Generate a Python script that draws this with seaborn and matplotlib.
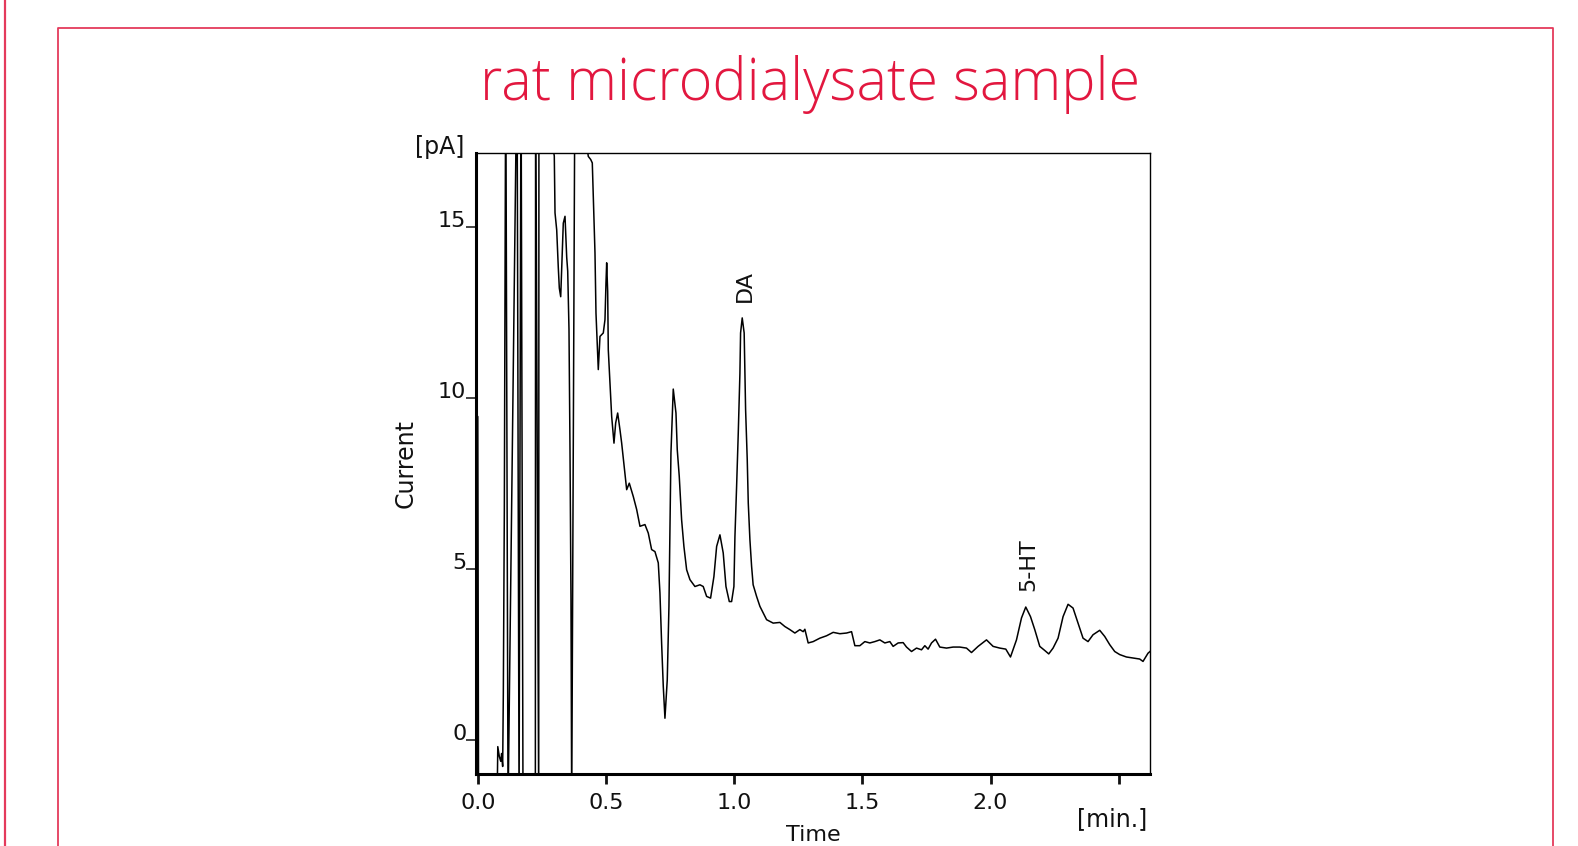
import numpy as np
import pandas as pd
import seaborn as sns
import matplotlib.pyplot as plt
from matplotlib.lines import Line2D

# ==================== DATA ====================
# chromatogram trace: time [min], current [pA]
time_min = [
    0.000, 0.003, 0.075, 0.078, 0.084, 0.0895, 0.093, 0.097, 0.0996, 0.1035,
    0.109, 0.118, 0.153, 0.161, 0.1686, 0.1764, 0.2245, 0.2255, 0.2376, 0.2385,
    0.2984, 0.3012, 0.3078, 0.314, 0.318, 0.3234, 0.3273, 0.3335, 0.3402, 0.3468,
    0.3507, 0.3557, 0.3596, 0.3635, 0.3663, 0.3791, 0.431, 0.4404, 0.4466, 0.4505,
    0.4571, 0.461, 0.4676, 0.470, 0.4766, 0.4895, 0.4961, 0.500, 0.5027, 0.5066,
    0.509, 0.5156, 0.5222, 0.5312, 0.5378, 0.5456, 0.5546, 0.5612, 0.5702, 0.5807,
    0.5909, 0.6065, 0.6197, 0.6326, 0.652, 0.665, 0.678, 0.691, 0.704, 0.7105,
    0.717, 0.7235, 0.730, 0.739, 0.7456, 0.7495, 0.7534, 0.7624, 0.773, 0.778,
    0.7858, 0.795, 0.804, 0.8146, 0.8275, 0.847, 0.8665, 0.8793, 0.8926, 0.908,
    0.921, 0.9316, 0.9445, 0.9573, 0.968, 0.981, 0.990, 0.999, 1.003, 1.0095,
    1.016, 1.0224, 1.025, 1.0314, 1.039, 1.0446, 1.051, 1.055, 1.0614, 1.068,
    1.074, 1.0875, 1.1004, 1.1265, 1.1522, 1.1784, 1.1978, 1.2173, 1.2368, 1.2563,
    1.2692, 1.2758, 1.2887, 1.3082, 1.3343, 1.3604, 1.3862, 1.4123, 1.4384, 1.4579,
    1.4708, 1.4903, 1.5097, 1.5292, 1.5487, 1.5682, 1.5877, 1.6072, 1.6201, 1.6396,
    1.6591, 1.6723, 1.6918, 1.7113, 1.7308, 1.7437, 1.7565, 1.7698, 1.7854, 1.8021,
    1.8283, 1.854, 1.8801, 1.9062, 1.9257, 1.9515, 1.9842, 2.010, 2.0361, 2.0595,
    2.0778, 2.1012, 2.1207, 2.1374, 2.1558, 2.1725, 2.192, 2.2115, 2.227, 2.2439,
    2.2634, 2.2829, 2.3024, 2.3218, 2.3413, 2.3608, 2.3803, 2.3998, 2.4259, 2.4454,
    2.4649, 2.4844, 2.5039, 2.530, 2.5558, 2.5819, 2.5947, 2.6142, 2.625,
]
current_pA = [
    9.45, -2.0, -2.0, -0.2, -0.49, -0.63, -0.4, -0.78, 1.37, 6.7,
    20.0, -2.0, 20.0, -2.0, 20.0, -2.0, -2.0, 20.0, -2.0, 20.0,
    17.06, 15.4, 14.9, 13.8, 13.2, 12.95, 13.8, 15.1, 15.3, 14.1,
    13.7, 12.0, 8.5, 4.1, -2.0, 20.0, 17.05, 16.96, 16.86, 15.9,
    14.23, 12.47, 11.3, 10.82, 11.79, 11.89, 12.28, 13.35, 13.94, 13.1,
    11.4, 10.43, 9.45, 8.67, 9.26, 9.55, 9.06, 8.67, 8.04, 7.31,
    7.5, 7.11, 6.73, 6.24, 6.29, 6.04, 5.56, 5.5, 5.17, 4.29,
    2.83, 1.56, 0.63, 1.75, 3.9, 6.24, 8.38, 10.25, 9.55, 8.48,
    7.70, 6.43, 5.65, 4.97, 4.68, 4.48, 4.53, 4.48, 4.19, 4.14,
    4.77, 5.65, 5.99, 5.46, 4.48, 4.04, 4.04, 4.48, 5.94, 7.4,
    8.97, 10.7, 11.89, 12.33, 11.89, 9.65, 8.19, 6.92, 5.85, 5.07,
    4.53, 4.19, 3.9, 3.51, 3.41, 3.43, 3.31, 3.22, 3.12, 3.22,
    3.16, 3.23, 2.83, 2.87, 2.97, 3.04, 3.14, 3.1, 3.12, 3.16,
    2.75, 2.75, 2.87, 2.83, 2.87, 2.92, 2.83, 2.87, 2.73, 2.83,
    2.84, 2.71, 2.58, 2.68, 2.63, 2.75, 2.65, 2.83, 2.94, 2.71,
    2.68, 2.71, 2.71, 2.68, 2.55, 2.73, 2.92, 2.73, 2.68, 2.65,
    2.42, 2.92, 3.56, 3.88, 3.6, 3.22, 2.73, 2.61, 2.51, 2.68,
    2.97, 3.6, 3.96, 3.85, 3.41, 2.97, 2.87, 3.07, 3.2, 3.02,
    2.78, 2.58, 2.49, 2.42, 2.39, 2.36, 2.29, 2.53, 2.6,
]

peak_names = ["DA", "5-HT"]
peak_time = [1.042, 2.147]
peak_label_y = [12.8, 4.35]

x_ticks = [0.0, 0.5, 1.0, 1.5, 2.0, 2.5]
x_tick_labels = ["0.0", "0.5", "1.0", "1.5", "2.0", ""]
y_ticks = [0, 5, 10, 15]

trace = pd.DataFrame({"time": time_min, "current": current_pA})

# ==================== FIGURE ====================
sns.set_style("white")
plt.rcParams["font.family"] = ["DejaVu Sans"]

red = "#E2173F"
frame_red = "#E43A5C"
ink = "#111111"

fig = plt.figure(figsize=(15.78, 8.46), dpi=100)

# red page frame
W, H = 1578, 846
fig.add_artist(Line2D([5 / W, 5 / W], [0, 1], color=frame_red, lw=1.6))
fig.add_artist(Line2D([58 / W, 58 / W, 1553 / W, 1553 / W],
                      [0, 1 - 28 / H, 1 - 28 / H, 0],
                      color=frame_red, lw=1.3))

fig.text(810 / W, 1 - 100 / H, "rat microdialysate sample", ha="center",
         va="baseline", color=red, fontsize=41.5, fontweight="light",
         family=["Open Sans", "DejaVu Sans"])

ax = fig.add_axes([476 / W, 1 - 774 / H, (1150 - 476) / W, (774 - 153) / H])
sns.lineplot(data=trace, x="time", y="current", ax=ax, color="black",
             lw=1.1, sort=False, estimator=None)

ax.set_xlim(-0.007, 2.622)
ax.set_ylim(-1.0, 17.15)
ax.set_xlabel("")
ax.set_ylabel("")

ax.set_xticks(x_ticks)
ax.set_xticklabels(x_tick_labels)
ax.set_yticks(y_ticks)
ax.tick_params(axis="x", direction="out", length=7, width=2, pad=7,
               labelsize=16, colors=ink, bottom=True)
ax.tick_params(axis="y", direction="out", length=7, width=1.1, pad=0,
               labelsize=16, colors=ink, left=True)
for lab in ax.get_yticklabels():
    lab.set_verticalalignment("baseline")

for side in ["left", "bottom"]:
    ax.spines[side].set_linewidth(2.2)
for side in ["top", "right"]:
    ax.spines[side].set_linewidth(1.0)
for s in ax.spines.values():
    s.set_color("black")

for name, t, y in zip(peak_names, peak_time, peak_label_y):
    ax.text(t, y, name, rotation=90, ha="center", va="bottom",
            fontsize=16, color=ink)

fig.text(464 / W, 1 - 147 / H, "[pA]", ha="right", va="center",
         fontsize=17, color=ink)
fig.text(406 / W, 1 - 463 / H, "Current", ha="center", va="center",
         rotation=90, fontsize=17, color=ink)
fig.text(1147 / W, 1 - 819 / H, "[min.]", ha="right", va="center",
         fontsize=17, color=ink)
fig.text(813 / W, 1 - 845 / H, "Time", ha="center", va="bottom",
         fontsize=16, color=ink)

plt.savefig("out.png", dpi=100)
plt.close()
